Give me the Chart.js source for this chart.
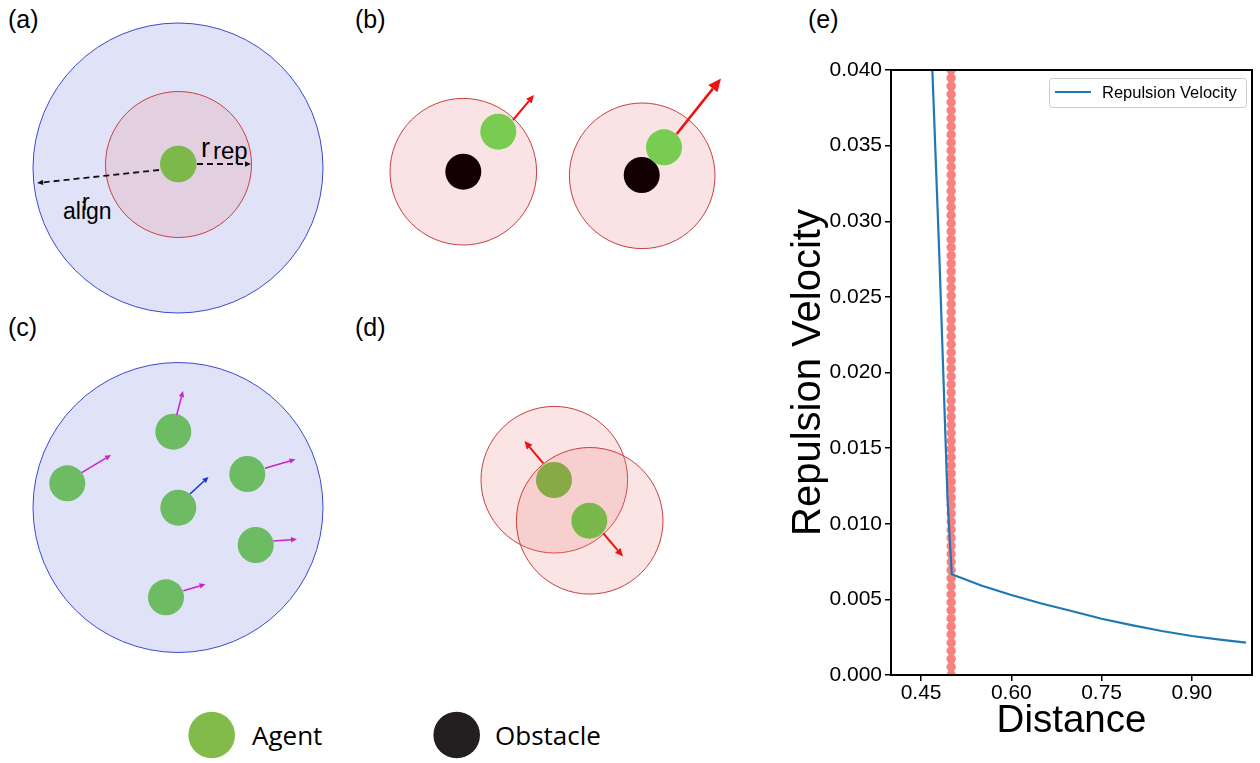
<!DOCTYPE html>
<html>
<head>
<meta charset="utf-8">
<script src="https://cdn.jsdelivr.net/npm/chart.js@4.4.1/dist/chart.umd.min.js"></script>
<style>
html, body { margin: 0; padding: 0; background: #fff; }
#page { position: relative; width: 1260px; height: 763px; overflow: hidden; }
#panels { position: absolute; left: 0; top: 0; }
#wrap { position: absolute; left: 785px; top: 0; width: 475px; height: 763px; }
</style>
</head>
<body>
<div id="page">
  <svg id="panels" width="1260" height="763" xmlns="http://www.w3.org/2000/svg"></svg>
  <div id="wrap"><canvas id="c" width="475" height="763"></canvas></div>
</div>
<script>
// (e) 排斥速度曲线 - 数据从图上读出
const distance = [0.455, 0.48, 0.494, 0.501, 0.55, 0.60, 0.65, 0.70, 0.75, 0.80, 0.85, 0.90, 0.95, 0.99];
const repulsion = [0.0545, 0.0281, 0.0116, 0.00666, 0.00592, 0.00529, 0.00473, 0.00423, 0.00372, 0.00330, 0.00291, 0.00258, 0.00232, 0.00214];
// 红点: x = 0.5 处的一列点
const boundaryX = 0.5;
const boundaryY = [0, 0.00053, 0.00107, 0.0016, 0.00213, 0.00267, 0.0032, 0.00373, 0.00427, 0.0048,
  0.00533, 0.00587, 0.0064, 0.00693, 0.00747, 0.008, 0.00853, 0.00907, 0.0096, 0.01013,
  0.01067, 0.0112, 0.01173, 0.01227, 0.0128, 0.01333, 0.01387, 0.0144, 0.01493, 0.01547,
  0.016, 0.01653, 0.01707, 0.0176, 0.01813, 0.01867, 0.0192, 0.01973, 0.02027, 0.0208,
  0.02133, 0.02187, 0.0224, 0.02293, 0.02347, 0.024, 0.02453, 0.02507, 0.0256, 0.02613,
  0.02667, 0.0272, 0.02773, 0.02827, 0.0288, 0.02933, 0.02987, 0.0304, 0.03093, 0.03147,
  0.032, 0.03253, 0.03307, 0.0336, 0.03413, 0.03467, 0.0352, 0.03573, 0.03627, 0.0368,
  0.03733, 0.03787, 0.0384, 0.03893, 0.03947, 0.04];
const xTicks = [0.45, 0.60, 0.75, 0.90];
const yTicks = [0, 0.005, 0.01, 0.015, 0.02, 0.025, 0.03, 0.035, 0.04];
const seriesName = 'Repulsion Velocity';

// ---- 左边的示意图 (a)-(d) ----
function circle(cx, cy, r, fill, stroke, sw) {
  return '<circle cx="' + cx + '" cy="' + cy + '" r="' + r + '" fill="' + fill + '"' +
    (stroke ? ' stroke="' + stroke + '" stroke-width="' + (sw || 1) + '"' : '') + '/>';
}
function arrow(x1, y1, x2, y2, color, w, head, dash) {
  const dx = x2 - x1, dy = y2 - y1, L = Math.hypot(dx, dy);
  const ux = dx / L, uy = dy / L;
  const bx = x2 - ux * head, by = y2 - uy * head;
  const px = -uy * head * 0.45, py = ux * head * 0.45;
  return '<line x1="' + x1 + '" y1="' + y1 + '" x2="' + bx + '" y2="' + by + '" stroke="' + color +
    '" stroke-width="' + w + '"' + (dash ? ' stroke-dasharray="' + dash + '"' : '') + '/>' +
    '<polygon points="' + x2 + ',' + y2 + ' ' + (bx + px) + ',' + (by + py) + ' ' + (bx - px) + ',' + (by - py) +
    '" fill="' + color + '"/>';
}
function text(x, y, s, size, family) {
  return '<text x="' + x + '" y="' + y + '" font-family="' + family + '" font-size="' + size + '" fill="#000">' + s + '</text>';
}
const ARIAL = "'Liberation Sans', Arial, sans-serif";
const OPEN = "'Open Sans', 'Noto Sans', sans-serif";
const blueFill = '#e0e2f8', blueLine = '#3a4bd0';
const pinkFill = '#f9e3e4', redLine = '#c94040';
let s = '';
// 标签
s += text(8, 28, '(a)', 25, ARIAL) + text(355, 28, '(b)', 25, ARIAL);
s += text(8, 336, '(c)', 25, ARIAL) + text(355, 336, '(d)', 25, ARIAL);
s += text(808, 28, '(e)', 25, ARIAL);
// (a)
s += circle(178, 168, 145, blueFill, blueLine, 1);
s += circle(178.5, 164.5, 73, '#e2d0e1', redLine, 1);
s += circle(178.3, 164, 18.3, '#7db84a');
s += arrow(159, 170, 37, 183, '#111', 1.8, 6, '6,4');
s += arrow(197, 164, 251, 164, '#111', 1.8, 6, '6,4');
s += text(201, 157, 'r', 27, ARIAL) + text(213, 159, 'rep', 24, ARIAL);
s += text(82, 210, 'r', 23, ARIAL) + text(63, 219, 'align', 23, ARIAL);
// (b)
s += circle(463.3, 171.7, 73.3, pinkFill, redLine, 1);
s += circle(463.3, 171.7, 18, '#130005');
s += circle(498.3, 131.7, 18, '#79cc52');
s += arrow(513, 120, 534, 95, '#ee1111', 2, 8);
s += circle(642.2, 175.8, 72.8, pinkFill, redLine, 1);
s += circle(641.7, 175, 18, '#130005');
s += circle(664, 147.3, 18, '#79cc52');
s += arrow(676.7, 134, 721, 78.5, '#ee1111', 2.6, 13);
// (c)
s += circle(178, 507.5, 145, blueFill, blueLine, 1);
const agentsC = [[173.3, 431.7], [67.3, 483.3], [178.3, 507.7], [247.3, 474], [255.7, 545], [166, 597.3]];
agentsC.forEach(function (a) { s += circle(a[0], a[1], 18, '#6dbb62'); });
s += arrow(176.7, 415, 183, 391, '#cc22cc', 1.5, 6);
s += arrow(81.7, 472.7, 111, 455, '#cc22cc', 1.5, 6);
s += arrow(190, 494, 208.5, 477, '#1133dd', 1.5, 6);
s += arrow(265, 468.3, 295.5, 459.3, '#cc22cc', 1.5, 6);
s += arrow(273.3, 541, 297, 539.3, '#cc22cc', 1.5, 6);
s += arrow(183.3, 590.7, 205.5, 584.3, '#cc22cc', 1.5, 6);
// (d)
s += circle(554.3, 479.7, 73.3, 'rgba(235,130,130,0.22)', redLine, 1);
s += circle(589.7, 520.8, 73.3, 'rgba(235,130,130,0.22)', redLine, 1);
s += circle(554, 480, 18, '#87a946');
s += circle(589.3, 520.7, 18, '#7bb84b');
s += arrow(543.3, 463.3, 524.5, 441, '#ee1111', 2, 8);
s += arrow(603.3, 533.3, 623, 556.5, '#ee1111', 2, 8);
// 下面的图例
s += circle(211.7, 735, 23.3, '#82bb4a');
s += text(252, 745, 'Agent', 26, OPEN);
s += circle(456.7, 735, 23.3, '#231f20');
s += text(495, 745, 'Obstacle', 26, OPEN);
document.getElementById('panels').innerHTML = s;

// ---- (e) Chart.js ----
const lineData = distance.map(function (d, i) { return { x: d, y: repulsion[i] }; });
const dotData = boundaryY.map(function (v) { return { x: boundaryX, y: v }; });

const frame = {
  id: 'frame',
  afterDraw(chart) {
    const ctx = chart.ctx, a = chart.chartArea;
    ctx.save();
    ctx.strokeStyle = '#000';
    ctx.lineWidth = 2;
    ctx.strokeRect(a.left, a.top, a.right - a.left, a.bottom - a.top);
    ctx.restore();
  }
};
const legendBox = {
  id: 'legendBox',
  afterDatasetsDraw(chart) {
    const ctx = chart.ctx, a = chart.chartArea;
    const w = 197, h = 29, x = a.right - 6 - w, y = a.top + 8;
    ctx.save();
    ctx.fillStyle = 'rgba(255,255,255,0.8)';
    ctx.strokeStyle = '#cccccc';
    ctx.lineWidth = 1;
    ctx.beginPath();
    ctx.roundRect(x + 0.5, y + 0.5, w, h, 3);
    ctx.fill();
    ctx.stroke();
    ctx.strokeStyle = '#1f77b4';
    ctx.lineWidth = 2.2;
    ctx.beginPath();
    ctx.moveTo(x + 6, y + 14);
    ctx.lineTo(x + 42, y + 14);
    ctx.stroke();
    ctx.fillStyle = '#000';
    ctx.font = "16.5px 'Liberation Sans', Arial, sans-serif";
    ctx.textBaseline = 'middle';
    ctx.fillText(chart.data.datasets[0].label, x + 53, y + 15);
    ctx.restore();
  }
};

new Chart(document.getElementById('c'), {
  type: 'scatter',
  data: {
    datasets: [{
      label: seriesName,
      data: lineData,
      showLine: true,
      borderColor: '#1f77b4',
      borderWidth: 2.2,
      pointRadius: 0,
      tension: 0,
      order: 0
    }, {
      label: 'boundary',
      data: dotData,
      pointRadius: 4.7,
      backgroundColor: '#fa8080',
      borderWidth: 0,
      order: 1
    }]
  },
  options: {
    responsive: false,
    devicePixelRatio: 1,
    animation: false,
    layout: { padding: { top: 70, right: 8, left: 0, bottom: 0 } },
    plugins: { legend: { display: false }, tooltip: { enabled: false } },
    scales: {
      x: {
        type: 'linear',
        min: 0.40,
        max: 1.0,
        afterBuildTicks: function (sc) { sc.ticks = xTicks.map(function (v) { return { value: v }; }); },
        afterFit: function (sc) { sc.height = 88; },
        ticks: {
          color: '#000',
          padding: 0,
          font: { family: "'Liberation Sans', Arial, sans-serif", size: 21 },
          callback: function (v) { return Number(v).toFixed(2); }
        },
        grid: { drawOnChartArea: false, drawTicks: true, tickLength: 6, color: '#000', lineWidth: 1.5 },
        border: { display: false },
        title: {
          display: true,
          text: 'Distance',
          color: '#000',
          padding: { top: 0, bottom: 19 },
          font: { family: "'Liberation Sans', Arial, sans-serif", size: 38.5 }
        }
      },
      y: {
        type: 'linear',
        min: 0,
        max: 0.04,
        afterBuildTicks: function (sc) { sc.ticks = yTicks.map(function (v) { return { value: v }; }); },
        afterFit: function (sc) { sc.width = 106; },
        ticks: {
          color: '#000',
          padding: 3,
          font: { family: "'Liberation Sans', Arial, sans-serif", size: 21 },
          callback: function (v) { return Number(v).toFixed(3); }
        },
        grid: { drawOnChartArea: false, drawTicks: true, tickLength: 6, color: '#000', lineWidth: 1.5 },
        border: { display: false },
        title: {
          display: true,
          text: 'Repulsion Velocity',
          color: '#000',
          padding: { top: 0, bottom: 0 },
          font: { family: "'Liberation Sans', Arial, sans-serif", size: 40 }
        }
      }
    }
  },
  plugins: [frame, legendBox]
});
</script>
</body>
</html>
